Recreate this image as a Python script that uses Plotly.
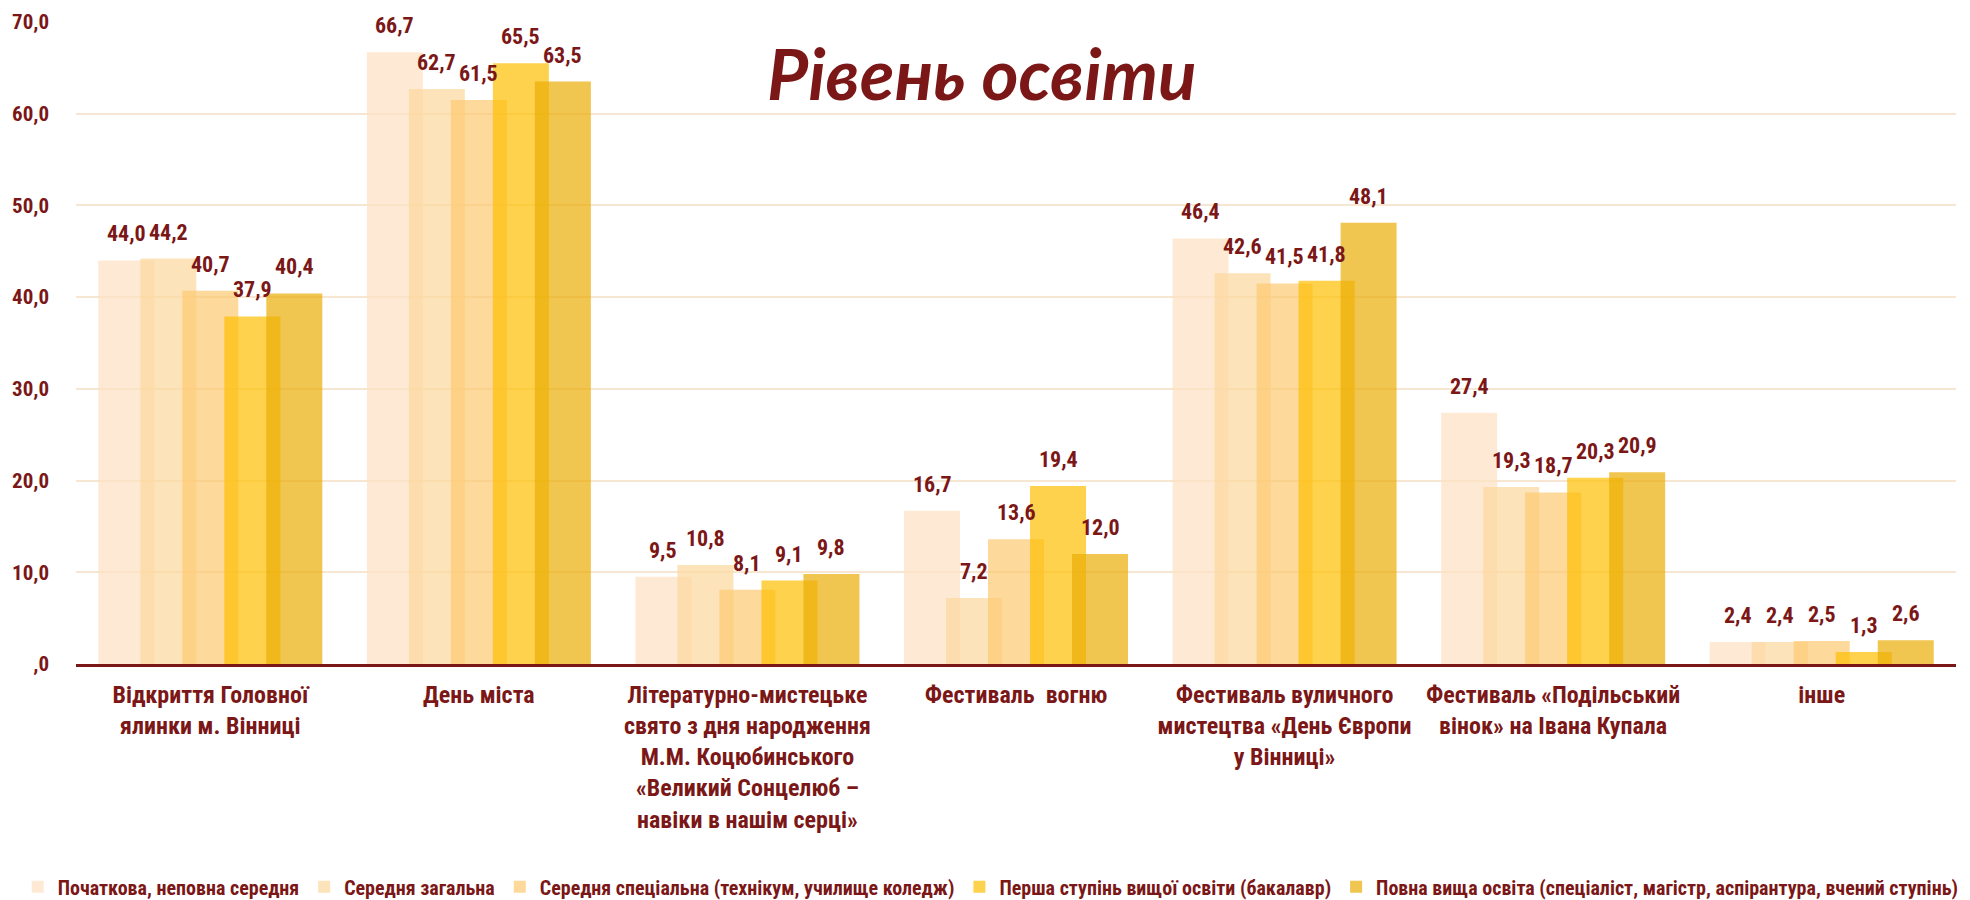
import plotly.graph_objects as go

categories = [
    "Відкриття Головної<br>ялинки м. Вінниці",
    "День міста",
    "Літературно-мистецьке<br>свято з дня народження<br>М.М. Коцюбинського<br>«Великий Сонцелюб –<br>навіки в нашім серці»",
    "Фестиваль  вогню",
    "Фестиваль вуличного<br>мистецтва «День Європи<br>у Вінниці»",
    "Фестиваль «Подільський<br>вінок» на Івана Купала",
    "інше",
]

series_names = [
    "Початкова, неповна середня",
    "Середня загальна",
    "Середня спеціальна (технікум, училище коледж)",
    "Перша ступінь вищої освіти (бакалавр)",
    "Повна вища освіта (спеціаліст, магістр, аспірантура, вчений ступінь)",
]

s1 = [44.0, 66.7, 9.5, 16.7, 46.4, 27.4, 2.4]
s2 = [44.2, 62.7, 10.8, 7.2, 42.6, 19.3, 2.4]
s3 = [40.7, 61.5, 8.1, 13.6, 41.5, 18.7, 2.5]
s4 = [37.9, 65.5, 9.1, 19.4, 41.8, 20.3, 1.3]
s5 = [40.4, 63.5, 9.8, 12.0, 48.1, 20.9, 2.6]
series_values = [s1, s2, s3, s4, s5]

y_ticks = [0, 10, 20, 30, 40, 50, 60, 70]
y_tick_labels = [",0", "10,0", "20,0", "30,0", "40,0", "50,0", "60,0", "70,0"]

colors = [
    "rgba(254,225,194,0.7)",
    "rgba(252,215,156,0.7)",
    "rgba(252,201,112,0.7)",
    "rgba(254,191,2,0.7)",
    "rgba(234,172,5,0.7)",
]

TXT = "#7B1717"
NARROW = "Roboto Condensed, Liberation Sans Narrow, Arial Narrow, Liberation Sans, sans-serif"

bar_w = 0.2085
step = 0.1564
start = -0.417

x_pos = list(range(len(categories)))

fig = go.Figure()
annotations = []
for i, (name, vals) in enumerate(zip(series_names, series_values)):
    off = start + i * step
    fig.add_trace(go.Bar(
        x=x_pos, y=vals, name=name,
        offset=off, width=bar_w,
        marker=dict(color=colors[i], line=dict(width=0)),
        hoverinfo="y+name",
    ))
    for j, v in enumerate(vals):
        annotations.append(dict(
            x=j + off + bar_w / 2, y=v, xref="x", yref="y",
            text=f"{v:.1f}".replace(".", ","),
            showarrow=False, yanchor="bottom", yshift=12,
            font=dict(family=NARROW, size=22, color=TXT, weight="bold"),
        ))

annotations.append(dict(
    x=0.4815, y=1.0, xref="paper", yref="paper", xanchor="center", yanchor="top",
    yshift=-6,
    text="<i><b>Рівень освіти</b></i>", showarrow=False,
    font=dict(family="Lato, Noto Sans, sans-serif", size=71, color=TXT),
))

fig.update_layout(
    width=1962, height=892,
    barmode="overlay",
    paper_bgcolor="white", plot_bgcolor="white",
    margin=dict(l=68, r=14, t=14, b=236, autoexpand=False),
    annotations=annotations,
    showlegend=True,
    legend=dict(
        orientation="h", x=-0.031, xanchor="left", y=-0.347, yanchor="middle",
        font=dict(family=NARROW, size=20, color=TXT, weight="bold"),
        itemwidth=30, traceorder="normal",
    ),
)

fig.update_xaxes(
    range=[-0.5, 6.5], tickvals=x_pos, ticktext=categories,
    showgrid=False, zeroline=False,
    showline=True, linecolor="#7B1717", linewidth=3,
    ticks="outside", ticklen=7, tickcolor="rgba(0,0,0,0)",
    tickfont=dict(family=NARROW, size=24, color=TXT, weight="bold"),
    tickangle=0,
)
fig.update_yaxes(
    range=[0, 70], tickvals=y_ticks, ticktext=y_tick_labels,
    showgrid=True, gridcolor="#F6E6D2", gridwidth=2,
    zeroline=False, showline=False,
    ticklabelstandoff=26,
    tickfont=dict(family=NARROW, size=21, color=TXT, weight="bold"),
)

fig.write_html("out.html")
